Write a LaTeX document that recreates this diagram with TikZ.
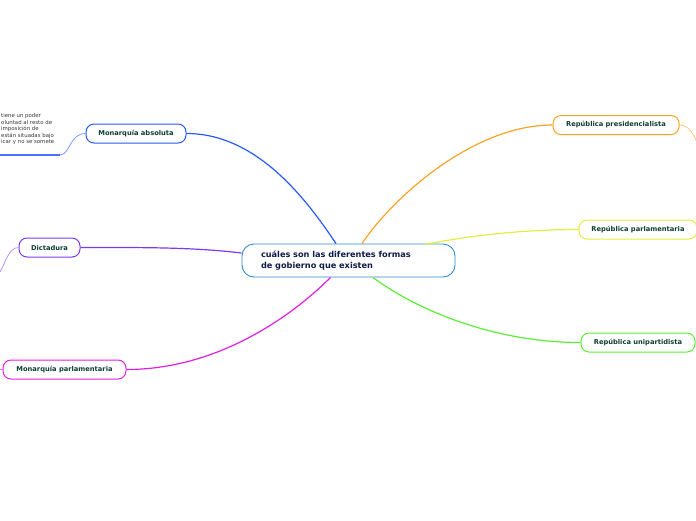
\documentclass[tikz,border=0pt]{standalone}
\usepackage{fontspec}
\setmainfont{DejaVu Sans}
\usepackage{tikz}
\usetikzlibrary{calc}
\usepackage{xcolor}

\definecolor{centreblue}{RGB}{52,140,208}
\definecolor{navytext}{RGB}{16,28,72}
\definecolor{nodetext}{RGB}{14,62,46}
\definecolor{absblue}{RGB}{38,90,255}
\definecolor{dictpurple}{RGB}{124,58,240}
\definecolor{parlmagenta}{RGB}{226,30,226}
\definecolor{presorange}{RGB}{246,164,38}
\definecolor{parlyellow}{RGB}{226,238,60}
\definecolor{unigreen}{RGB}{92,238,52}

\tikzset{
  topic/.style={draw=#1, line width=1pt, rounded corners=8pt, inner sep=0pt,
    minimum height=19pt, text=nodetext, font=\bfseries\fontsize{6.7}{7.5}\selectfont},
  branch/.style={draw=#1, line width=1.2pt},
  twig/.style={draw=#1, line width=0.8pt}
}

\begin{document}
\begin{tikzpicture}[x=1pt,y=1pt,yscale=-1,xscale=1]
\useasboundingbox (0,0) rectangle (696,520);
\clip (0,0) rectangle (696,520);

% Central Node
\node [draw=centreblue, line width=0.9pt, rounded corners=12pt, inner xsep=19pt, inner ysep=0pt,
  minimum height=33pt, text width=175pt, align=left, text=navytext,
  font=\bfseries\fontsize{8.2}{10.2}\selectfont] (c) at (348.5,260.5)
  {cuáles son las diferentes formas\\de gobierno que existen};

% Topic Nodes
\node [topic=absblue, minimum width=100pt] (ma) at (136,133.5) {Monarquía absoluta};
\node [topic=dictpurple, minimum width=61pt] (dic) at (49.5,247.5) {Dictadura};
\node [topic=parlmagenta, minimum width=123pt] (mp) at (64.5,369.5) {Monarquía parlamentaria};
\node [topic=presorange, minimum width=126pt] (rp) at (616,125) {República presidencialista};
\node [topic=parlyellow, minimum width=118pt] (rpa) at (638,229.5) {República parlamentaria};
\node [topic=unigreen, minimum width=114pt] (ru) at (638,342.5) {República unipartidista};

%Curve Lines
\draw [branch=absblue] ($(c.north)+(-12.5,0)$) .. controls +(-30,-45) and +(70,0) .. (ma.east);
\draw [branch=dictpurple] ($(c.west)+(0,-7.5)$) .. controls +(-50,-6) and +(60,0) .. (dic.east);
\draw [branch=parlmagenta] ($(c.south)+(-18,0)$) .. controls +(-40,40) and +(90,0) .. (mp.east);
\draw [branch=presorange] ($(c.north)+(13.5,0)$) .. controls +(30,-45) and +(-80,0) .. (rp.west);
\draw [branch=parlyellow] ($(c.north)+(76,1)$) .. controls +(40,-8) and +(-60,0) .. (rpa.west);
\draw [branch=unigreen] ($(c.south)+(24.5,0)$) .. controls +(40,30) and +(-90,0) .. (ru.west);

% Loose ends
\coordinate (mauline) at (60,155);
\coordinate (maedge) at (0,155);
\draw [twig=absblue!60] (ma.west) .. controls +(-16,0) and +(10,0) .. (mauline);
\draw [line width=2pt, absblue!85] (mauline) -- (maedge);
\coordinate (dicend) at (0,272);
\draw [twig=dictpurple!55] (dic.west) .. controls +(-10,0) and +(5,-8) .. (dicend);
\coordinate (mpend) at (0,369.5);
\draw [twig=parlmagenta!60] (mp.west) -- (mpend);
\coordinate (rpend) at (698,145);
\draw [twig=presorange!60] (rp.east) .. controls +(10,0) and +(-4,-10) .. (rpend);

% Text Node
\node [anchor=north west, inner sep=0pt, align=left, text=black!78,
  font=\fontsize{5.4}{6.5}\selectfont] (matext) at (1,113.5)
  {tiene un poder\\oluntad al resto de\\imposición de\\están situadas bajo\\icar y no se somete};
\end{tikzpicture}
\end{document}
